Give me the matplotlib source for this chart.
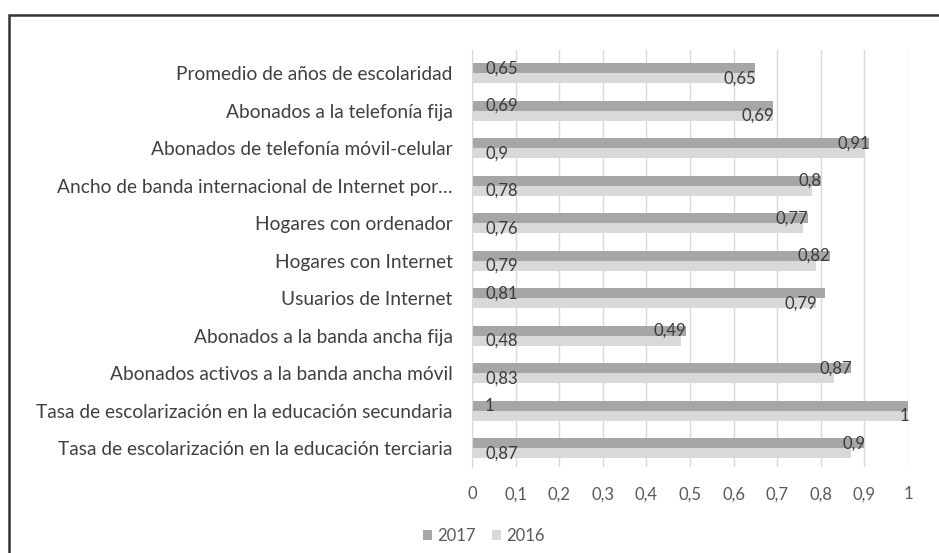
import matplotlib
matplotlib.use('Agg')
import matplotlib.pyplot as plt
from matplotlib.patches import Rectangle
import numpy as np

plt.rcParams['font.family'] = ['Lato', 'DejaVu Sans']

categories = [
    'Promedio de años de escolaridad',
    'Abonados a la telefonía fija',
    'Abonados de telefonía móvil-celular',
    'Ancho de banda internacional de Internet por…',
    'Hogares con ordenador',
    'Hogares con Internet',
    'Usuarios de Internet',
    'Abonados a la banda ancha fija',
    'Abonados activos a la banda ancha móvil',
    'Tasa de escolarización en la educación secundaria',
    'Tasa de escolarización en la educación terciaria',
]
values_2017 = [0.65, 0.69, 0.91, 0.80, 0.77, 0.82, 0.81, 0.49, 0.87, 1.00, 0.90]
values_2016 = [0.65, 0.69, 0.90, 0.78, 0.76, 0.79, 0.79, 0.48, 0.83, 1.00, 0.87]

# where each data label sits: 'base' = near the axis, 'end' = at the bar tip
place_2017 = ['base', 'base', 'end', 'end', 'end', 'end', 'base', 'end', 'end', 'base', 'end']
place_2016 = ['end', 'end', 'base', 'base', 'base', 'base', 'end', 'base', 'base', 'end', 'base']

c2017 = '#a6a6a6'
c2016 = '#d9d9d9'


def fmt(v):
    s = f'{v:.2f}'.rstrip('0').rstrip('.')
    return s.replace('.', ',')


fig = plt.figure(figsize=(9.39, 5.53), dpi=100)
ax = fig.add_axes([472 / 939, 86 / 553, 436 / 939, 417 / 553])

y = np.arange(len(categories))
h = 0.27
ax.barh(y - h / 2, values_2017, height=h, color=c2017, label='2017', zorder=2)
ax.barh(y + h / 2, values_2016, height=h, color=c2016, label='2016', zorder=2)

for i in range(len(categories)):
    for val, place, off in ((values_2017[i], place_2017[i], -h / 2),
                            (values_2016[i], place_2016[i], h / 2)):
        if place == 'base':
            ax.text(0.03, y[i] + off, fmt(val), ha='left', va='center',
                    fontsize=12, color='#3a3a3a', zorder=3)
        else:
            ax.text(val + 0.002, y[i] + off, fmt(val), ha='right', va='center',
                    fontsize=12, color='#3a3a3a', zorder=3)

ax.set_xlim(0, 1)
ax.set_ylim(10.5, -0.62)
ax.set_xticks(np.arange(0, 1.01, 0.1))
ax.set_xticklabels([fmt(t) for t in np.arange(0, 1.01, 0.1)], fontsize=12, color='#595959')
ax.set_yticks(y)
ax.set_yticklabels(categories, fontsize=13.8, color='#404040')
ax.tick_params(axis='both', length=0)
ax.tick_params(axis='x', pad=14)
ax.tick_params(axis='y', pad=14)
ax.grid(axis='x', color='#d9d9d9', linewidth=1, zorder=0)
for side in ['top', 'right', 'bottom']:
    ax.spines[side].set_visible(False)
ax.spines['left'].set_color('#d9d9d9')

ax.legend(loc='upper left', bbox_to_anchor=(-0.147, -0.111), ncol=2, frameon=False,
          fontsize=12, handlelength=0.55, handleheight=0.55, columnspacing=1.0,
          handletextpad=0.3, labelcolor='#595959')

# outer frame
fig.patches.append(Rectangle((9 / 939, -0.1), 1.1, (538 / 553) + 0.1, transform=fig.transFigure,
                             fill=False, edgecolor='#333333', linewidth=1.8))

fig.savefig('out.png', dpi=100)
